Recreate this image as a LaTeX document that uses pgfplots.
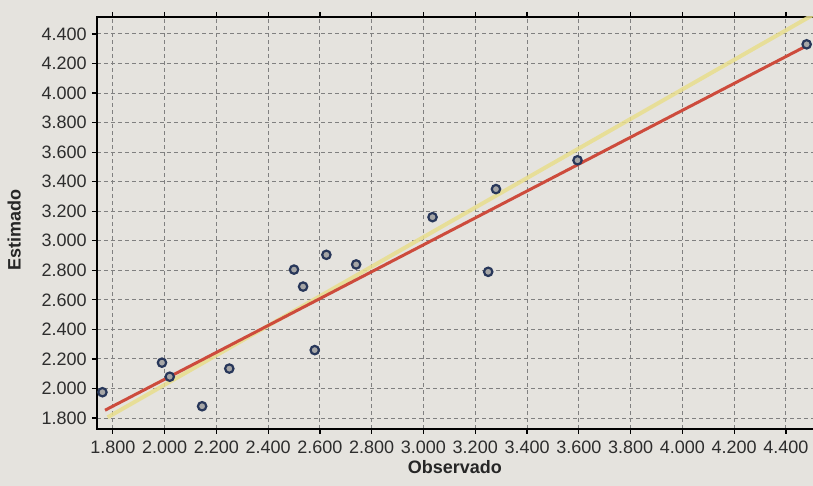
\documentclass[border=0pt]{standalone}
\usepackage{pgfplots}
\pgfplotsset{compat=1.18}
\usepackage{fontspec}
\setmainfont{Liberation Sans}
\definecolor{bg}{RGB}{229,227,222}
\definecolor{ptc}{RGB}{40,55,90}
\definecolor{fitc}{RGB}{205,75,60}
\definecolor{diagc}{RGB}{232,222,140}
\definecolor{tl}{RGB}{45,45,45}
\begin{document}
\begin{tikzpicture}
\fill[bg] (-48.5pt,-28.5pt) rectangle (358pt,214.5pt);
\useasboundingbox (-48.5pt,-28.5pt) rectangle (358pt,214.5pt);
\begin{axis}[
  scale only axis, width=360pt, height=206pt,
  xmin=1739, xmax=4520, ymin=1726, ymax=4515,
  xtick={1800,2000,2200,2400,2600,2800,3000,3200,3400,3600,3800,4000,4200,4400},
  xticklabels={1.800,2.000,2.200,2.400,2.600,2.800,3.000,3.200,3.400,3.600,3.800,4.000,4.200,4.400},
  ytick={1800,2000,2200,2400,2600,2800,3000,3200,3400,3600,3800,4000,4200,4400},
  yticklabels={1.800,2.000,2.200,2.400,2.600,2.800,3.000,3.200,3.400,3.600,3.800,4.000,4.200,4.400},
  grid=major,
  major grid style={dash pattern=on 2pt off 1.5pt, line width=0.5pt, color=black!50},
  axis line style={line width=1.3pt, black},
  tick style={black, line width=0.6pt},
  tick align=outside, major tick length=2.5pt,
  ticklabel style={font=\fontsize{9}{11}\selectfont, text=tl},
  xticklabel style={inner sep=1pt, yshift=-2.5pt},
  yticklabel style={inner sep=1pt, xshift=-1.5pt},
  xlabel={\textbf{Observado}},
  ylabel={\textbf{Estimado}},
  label style={font=\fontsize{9}{11}\selectfont, text=black!85},
  xlabel style={at={(axis description cs:0.497,-0.092)}, anchor=center},
  ylabel style={at={(axis description cs:-0.115,0.483)}, anchor=center},
  clip=true,
]
\addplot[diagc, line width=2pt, opacity=0.85] coordinates {(1780,1805) (4520,4545)};
\addplot[fitc, line width=1.5pt] coordinates {(1770,1853) (4480,4320)};
\addplot[only marks, mark=*, mark size=2.1pt,
  mark options={draw=ptc, line width=1.1pt, fill=black!35}] coordinates {
  (1760,1975) (1990,2175) (2020,2080) (2145,1880) (2250,2135)
  (2500,2805) (2535,2690) (2580,2260) (2625,2905) (2740,2840)
  (3035,3160) (3250,2790) (3280,3350) (3595,3545) (4480,4330)
};
\end{axis}
\end{tikzpicture}
\end{document}
